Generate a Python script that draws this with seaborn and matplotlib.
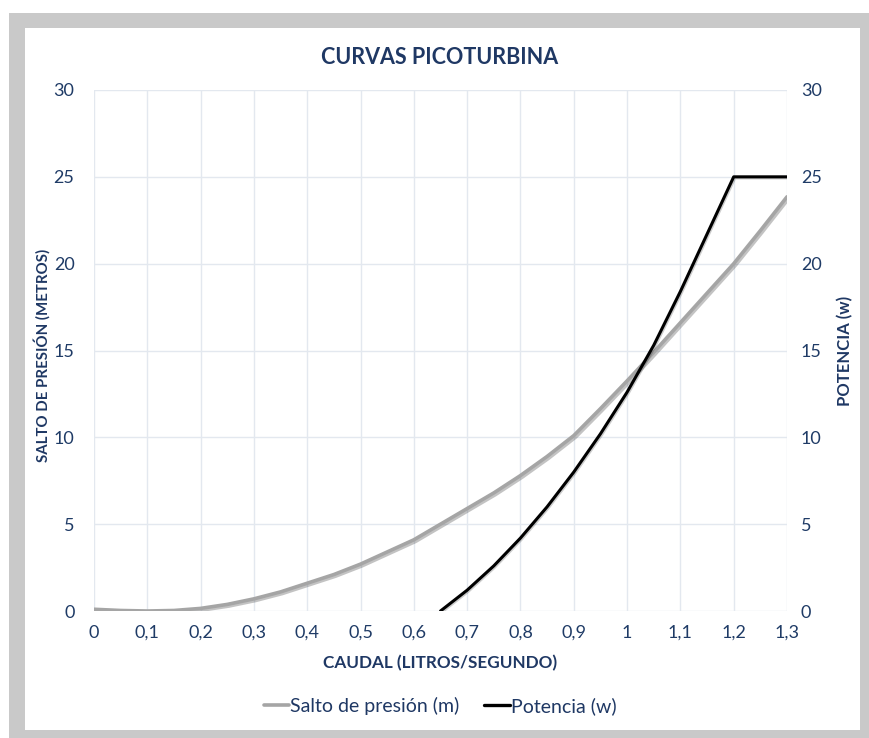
import matplotlib
matplotlib.use("Agg")
import matplotlib.pyplot as plt
import matplotlib.patheffects as pe
from matplotlib.patches import Rectangle
from matplotlib.ticker import FuncFormatter, MultipleLocator
from matplotlib.lines import Line2D
import seaborn as sns
import pandas as pd

# ---- data ----
caudal_salto = [0.0, 0.05, 0.1, 0.15, 0.2, 0.25, 0.3, 0.35, 0.4, 0.45, 0.5, 0.55, 0.6,
                0.65, 0.7, 0.75, 0.8, 0.85, 0.9, 0.95, 1.0, 1.05, 1.1, 1.15, 1.2, 1.25, 1.3]
salto_presion = [0.1, 0.03, 0.0, 0.03, 0.15, 0.38, 0.7, 1.1, 1.6, 2.1, 2.7, 3.4, 4.1,
                 5.0, 5.9, 6.8, 7.8, 8.9, 10.1, 11.65, 13.25, 14.9, 16.6, 18.3, 20.0, 21.9, 23.85]
caudal_pot = [0.65, 0.7, 0.75, 0.8, 0.85, 0.9, 0.95, 1.0, 1.05, 1.1, 1.15, 1.2, 1.25, 1.3]
potencia = [0.0, 1.2, 2.6, 4.2, 6.0, 8.0, 10.2, 12.6, 15.3, 18.4, 21.7, 25.0, 25.0, 25.0]

title = "CURVAS PICOTURBINA"
xlabel = "CAUDAL (LITROS/SEGUNDO)"
ylabel_left = "SALTO DE PRESIÓN (METROS)"
ylabel_right = "POTENCIA (w)"
legend_labels = ["Salto de presión (m)", "Potencia (w)"]

df_salto = pd.DataFrame({"caudal": caudal_salto, "valor": salto_presion})
df_pot = pd.DataFrame({"caudal": caudal_pot, "valor": potencia})

sns.set_style("white")
plt.rcParams["font.family"] = ["Lato", "DejaVu Sans"]

W, H = 869, 738
fig = plt.figure(figsize=(W / 100, H / 100), dpi=100)
fig.patch.set_facecolor("white")

# outer grey frame and inner white panel
fig.patches.append(Rectangle((9 / W, 0), (W - 9) / W, (H - 13) / H, transform=fig.transFigure,
                             facecolor="#c9c9c9", edgecolor="none", zorder=-10))
fig.patches.append(Rectangle((25 / W, 8 / H), 835 / W, 702 / H, transform=fig.transFigure,
                             facecolor="white", edgecolor="none", zorder=-9))

left, right, top, bottom = 94, 787, 90, 611
ax = fig.add_axes([left / W, (H - bottom) / H, (right - left) / W, (bottom - top) / H])
ax.set_facecolor("none")
ax2 = ax.twinx()

dark = "#1f3864"
tickc = "#1f3b66"
grey = "#a5a5a5"

sns.lineplot(data=df_salto, x="caudal", y="valor", ax=ax, color=grey, linewidth=2.6,
             path_effects=[pe.SimpleLineShadow(offset=(1.2, -1.2), alpha=0.35, shadow_color="#555555"),
                           pe.Normal()], zorder=3)
sns.lineplot(data=df_pot, x="caudal", y="valor", ax=ax2, color="black", linewidth=2.2,
             path_effects=[pe.SimpleLineShadow(offset=(0.8, -0.8), alpha=0.2), pe.Normal()], zorder=4)

for a in (ax, ax2):
    a.set_xlim(0, 1.3)
    a.set_ylim(0, 30)
    a.yaxis.set_major_locator(MultipleLocator(5))
    for s in a.spines.values():
        s.set_visible(False)
    a.set_xlabel("")
    a.set_ylabel("")
    a.tick_params(length=0, colors=tickc, labelsize=13)

ax.xaxis.set_major_locator(MultipleLocator(0.1))
fmt = FuncFormatter(lambda v, p: ("%g" % round(v, 2)).replace(".", ","))
ax.xaxis.set_major_formatter(fmt)
ax.yaxis.set_major_formatter(FuncFormatter(lambda v, p: "%d" % v))
ax2.yaxis.set_major_formatter(FuncFormatter(lambda v, p: "%d" % v))
ax.tick_params(axis="x", pad=10)
ax.tick_params(axis="y", pad=14)
ax2.tick_params(axis="y", pad=10)

ax.grid(True, color="#e3e8ef", linewidth=1.0)
ax2.grid(False)
ax.set_axisbelow(True)

fig.text(440 / W, (H - 57) / H, title, ha="center", va="center", fontsize=15.5,
         fontweight="bold", color=dark)
fig.text(440 / W, (H - 663) / H, xlabel, ha="center", va="center", fontsize=12.3,
         fontweight="bold", color=dark)
fig.text(42 / W, (H - 355) / H, ylabel_left, ha="center", va="center", rotation=90,
         fontsize=10.8, fontweight="bold", color=dark)
fig.text(845 / W, (H - 351) / H, ylabel_right, ha="center", va="center", rotation=90,
         fontsize=12, fontweight="bold", color=dark)

handles = [Line2D([], [], color=grey, linewidth=2.6), Line2D([], [], color="black", linewidth=2.4)]
leg = fig.legend(handles, legend_labels, loc="center", bbox_to_anchor=(440 / W, (H - 706) / H),
                 ncol=2, frameon=False, fontsize=14, handlelength=1.3, handletextpad=0.05,
                 columnspacing=1.3)
for t in leg.get_texts():
    t.set_color(dark)

fig.savefig("out.png", dpi=100)
